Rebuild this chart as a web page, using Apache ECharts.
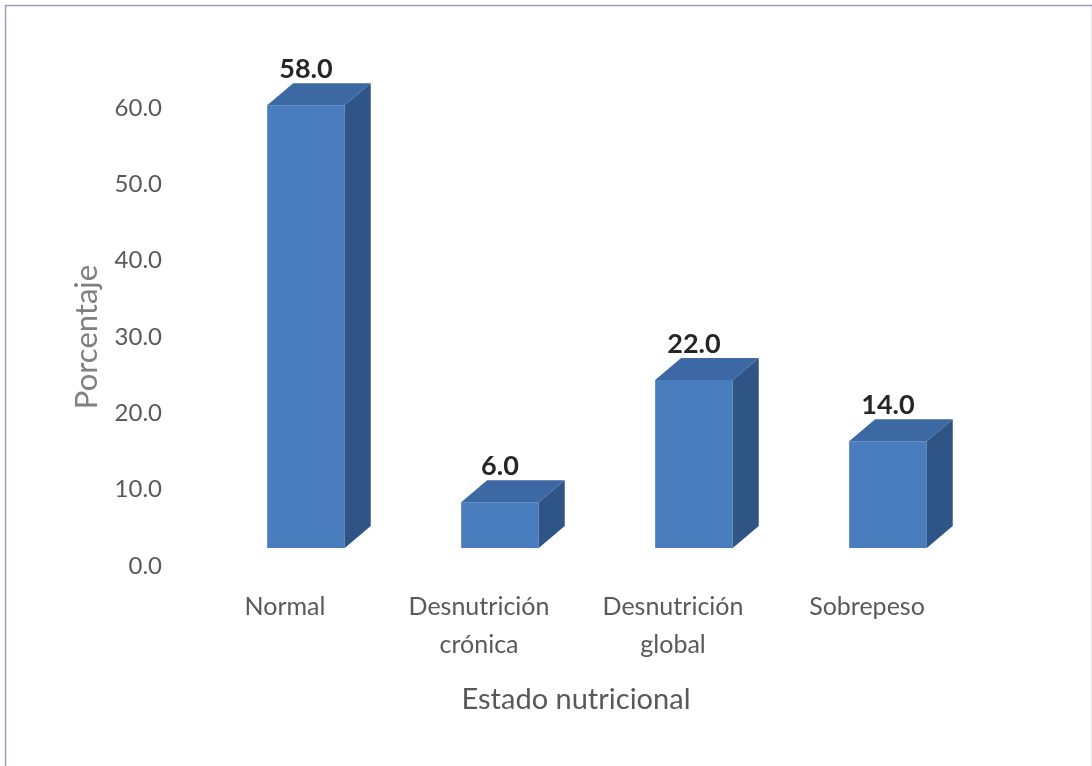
<!DOCTYPE html>
<html>
<head>
<meta charset="utf-8">
<script src="https://cdn.jsdelivr.net/npm/echarts@6/dist/echarts.min.js"></script>
<style>
  html, body { margin: 0; padding: 0; background: #ffffff; }
  #chart { width: 1092px; height: 766px; }
</style>
</head>
<body>
<div id="chart"></div>
<script>
// Estado nutricional (%)
const categories = ['Normal', 'Desnutrición\ncrónica', 'Desnutrición\nglobal', 'Sobrepeso'];
const percentages = [58.0, 6.0, 22.0, 14.0];
const yMin = 0;
const yMax = 60;
const yStep = 10;

const FONT = 'Lato, "Open Sans", sans-serif';
const FRONT = '#4a7dbe';
const TOP = '#3c69a3';
const SIDE = '#2f5586';

// 3D-style box: front face, top face and right side face
function renderBox(params, api) {
  const idx = api.value(0);
  const val = api.value(1);
  const base = api.coord([idx, 0]);
  const peak = api.coord([idx, val]);
  const band = api.size([1, 0])[0];
  const w = band * 0.40;
  const cx = base[0] + band * 0.108;
  const floorLift = 18;
  const dx = band * 0.134;
  const dy = -22;
  const L = cx - w / 2, R = cx + w / 2;
  const yb = base[1] - floorLift;
  const yt = peak[1] - floorLift;
  return {
    type: 'group',
    children: [
      { type: 'rect', shape: { x: L, y: yt, width: w, height: yb - yt }, style: { fill: FRONT } },
      { type: 'polygon', shape: { points: [[L, yt], [R, yt], [R + dx, yt + dy], [L + dx, yt + dy]] }, style: { fill: TOP } },
      { type: 'polygon', shape: { points: [[R, yt], [R + dx, yt + dy], [R + dx, yb + dy], [R, yb]] }, style: { fill: SIDE } },
      { type: 'text', x: cx, y: yt - 36, style: {
          text: val.toFixed(1), fill: '#262626', font: 'bold 27px ' + FONT,
          align: 'center', verticalAlign: 'middle' } }
    ]
  };
}

const chart = echarts.init(document.getElementById('chart'), null, { renderer: 'canvas' });
chart.setOption({
  backgroundColor: '#ffffff',
  animation: false,
  graphic: [{
    type: 'rect', left: 3, top: 3,
    shape: { width: 1087, height: 800 },
    style: { fill: 'none', stroke: '#9c9cc2', lineWidth: 1.5 }
  }],
  grid: { left: 188, right: 128, top: 108, bottom: 200 },
  xAxis: {
    type: 'category',
    data: categories,
    axisLine: { show: false },
    axisTick: { show: false },
    axisLabel: { color: '#595959', fontFamily: FONT, fontSize: 25, lineHeight: 38, margin: 22, interval: 0 },
    name: 'Estado nutricional',
    nameLocation: 'middle',
    nameGap: 119,
    nameTextStyle: { color: '#595959', fontFamily: FONT, fontSize: 29 }
  },
  yAxis: {
    type: 'value',
    min: yMin, max: yMax, interval: yStep,
    axisLine: { show: false },
    axisTick: { show: false },
    splitLine: { show: false },
    axisLabel: { color: '#595959', fontFamily: FONT, fontSize: 24, margin: 26, formatter: v => v.toFixed(1) },
    name: 'Porcentaje',
    nameLocation: 'middle',
    nameGap: 86,
    nameRotate: 90,
    nameTextStyle: { color: '#808080', fontFamily: FONT, fontSize: 31 }
  },
  series: [{
    type: 'custom',
    renderItem: renderBox,
    data: percentages.map((v, i) => [i, v])
  }]
});
</script>
</body>
</html>
